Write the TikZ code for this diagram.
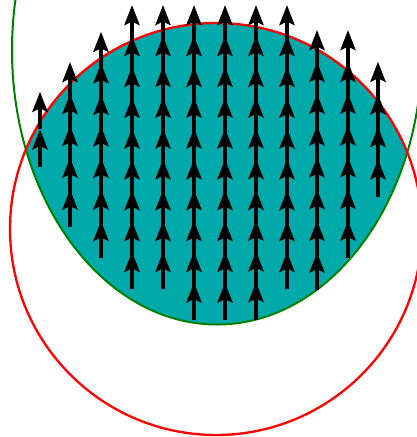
\documentclass[tikz,border=0pt]{standalone}
\usetikzlibrary{arrows.meta}
\definecolor{tealfill}{RGB}{0,170,170}
\definecolor{dgreen}{RGB}{0,128,0}
\begin{document}
\begin{tikzpicture}[x=1pt,y=-1pt,
  vec/.style={line width=4.6pt,-{Stealth[length=20pt,width=15pt,inset=3.5pt]}},
  redline/.style={red,line width=2.3pt},
  greenline/.style={dgreen,line width=2pt}]
\useasboundingbox (0,0) rectangle (417,437);
\clip (0,0) rectangle (417,437);
\begin{scope}
  \clip (217,50) ellipse [x radius=205, y radius=274.5];
  \fill[tealfill] (216,229) circle [radius=206];
\end{scope}
\draw[greenline] (217,50) ellipse [x radius=205, y radius=274.5];
\draw[redline] (216,229) circle [radius=206];
\foreach \x/\b/\t/\n in {40/166.7/91.7/2, 70/227/62/5, 101/258.3/31.7/7,
  132/289.3/5/9, 163/289.3/5/9, 194/320/5/10, 225/320/5/10, 256/319.5/5/10,
  287/289.3/5/9, 317/290/30/8, 348/258/30/7, 378/196.7/61.7/4}{
  \pgfmathsetmacro{\stp}{(\b-37.5-\t)/(\n-1)}
  \foreach \k in {1,...,\n}{
    \pgfmathsetmacro{\sy}{\b-(\k-1)*\stp}
    \draw[vec] (\x,\sy) -- (\x,\sy-37.5);
  }
}
\end{tikzpicture}
\end{document}
